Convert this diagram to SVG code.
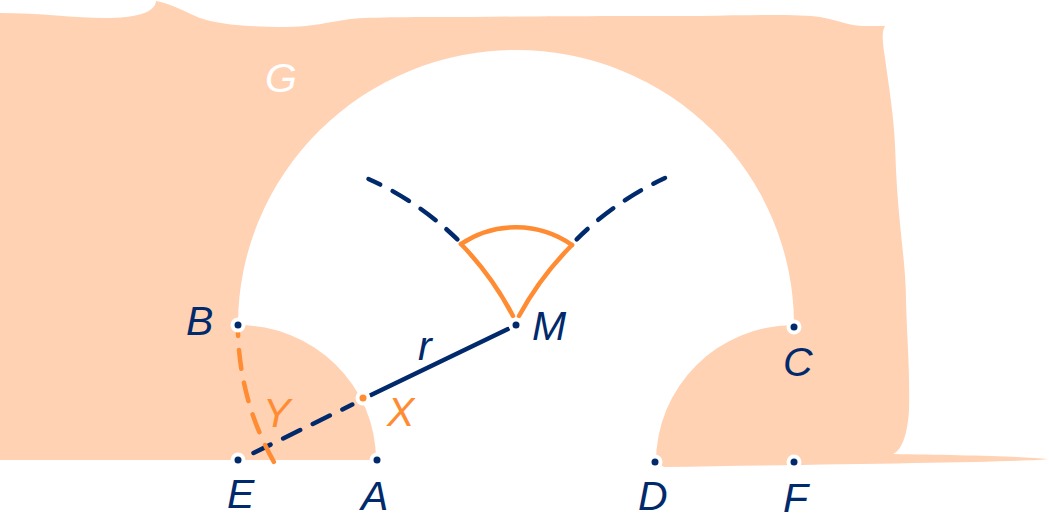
<svg xmlns="http://www.w3.org/2000/svg" width="1049" height="515" viewBox="0 0 1049 515">
<style>
.t{font-family:"Liberation Sans",Arial,sans-serif;font-style:italic;font-size:41px}
.n{fill:#002a6c}.o{fill:#ff8c32}.w{fill:#fff}
.halo{fill:#fff}
.nl{fill:none;stroke:#002a6c;stroke-width:4.5;stroke-linecap:round}
.ol{fill:none;stroke:#ff8c32;stroke-width:4.5;stroke-linecap:round}
</style>
<g id="region-G">
<path fill="#ffd2b4" d="M0,13 C40,13 75,18 105,18 C135,18 155,13 156,1 C168,3 180,9 193,15 C203,20 225,27 285,27 C310,27 330,22 350,19 C370,17 420,17 470,17 C560,16 640,16 700,16 C750,15 800,14 820,17 C840,21 850,26 865,26 L885,26 C881,32 883,45 885,58 C890,95 895,120 896,170 C899,230 906,265 906,300 C907,340 910,370 909,410 C908,430 903,450 893,454 C950,455 1020,456 1048,459 C1030,462 850,464 664,467 L656,462 A138,137 0 0 1 794,325 A278,275 0 0 0 238,325 A138,135 0 0 1 376,460 L0,460 Z"/>
</g>
<g id="connectors">
<path class="ol" d="M461,244 A310,310 0 0 1 513,316"/>
<path class="ol" d="M572,245 A310,310 0 0 0 519,316"/>
<path class="ol" d="M461,244 A98,98 0 0 1 572,245"/>
<path class="nl" d="M368.500,179 A310,310 0 0 1 459,241" stroke-dasharray="13 14 19 14 19 14 15 100"/>
<path class="nl" d="M665,178 A310,310 0 0 0 573,243" stroke-dasharray="13 14 19 14 19 14 15 100"/>
<path class="nl" d="M508,329 L371,395"/>
<path class="nl" d="M253.500,453 L357.500,402" stroke-dasharray="19 14 19 14 19 14 11 100"/>
<path class="ol" d="M238,333 A278,278 0 0 0 274.500,463" stroke-dasharray="3 14 19 14 19 14 19 14 19"/>
</g>
<g id="B"><circle class="halo" cx="238" cy="325" r="7.5"/><circle class="n" cx="238" cy="325" r="3.5"/><text class="t n" x="186" y="335">B</text></g>
<g id="E"><circle class="halo" cx="238" cy="460" r="7.5"/><circle class="n" cx="238" cy="460" r="3.5"/><text class="t n" x="227" y="508">E</text></g>
<g id="A"><circle class="halo" cx="377" cy="460" r="7.5"/><circle class="n" cx="377" cy="460" r="3.5"/><text class="t n" x="361" y="510">A</text></g>
<g id="X"><circle class="halo" cx="363" cy="398" r="7.5"/><circle class="o" cx="363" cy="398" r="3.5"/><text class="t o" x="387" y="426">X</text></g>
<g id="M"><circle class="halo" cx="516" cy="325" r="7.5"/><circle class="n" cx="516" cy="325" r="3.5"/><text class="t n" x="532" y="340">M</text></g>
<g id="C"><circle class="halo" cx="794" cy="327" r="7.5"/><circle class="n" cx="794" cy="327" r="3.5"/><text class="t n" x="783" y="376">C</text></g>
<g id="D"><circle class="halo" cx="655" cy="462" r="7.5"/><circle class="n" cx="655" cy="462" r="3.5"/><text class="t n" x="638" y="510">D</text></g>
<g id="F"><circle class="halo" cx="794" cy="462" r="7.5"/><circle class="n" cx="794" cy="462" r="3.5"/><text class="t n" x="783" y="512">F</text></g>
<text id="G" class="t w" x="265" y="92">G</text>
<text id="r" class="t n" x="418" y="360">r</text>
<text id="Y" class="t o" x="263" y="427">Y</text>
</svg>
